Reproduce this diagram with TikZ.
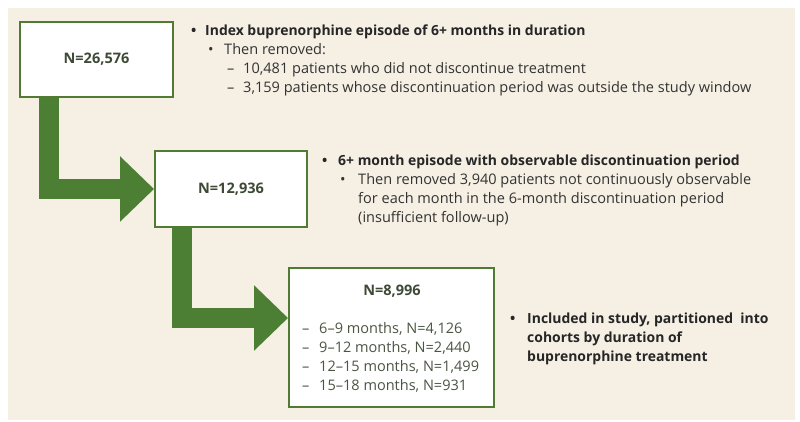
\documentclass[tikz,border=0pt]{standalone}
\usepackage{fontspec}
\setmainfont{Open Sans}
\usepackage{xcolor}
\usepackage{tikz}
\usetikzlibrary{positioning,arrows.meta,backgrounds}
\definecolor{flowgreen}{HTML}{4C7F33}
\definecolor{flowedge}{HTML}{517B32}
\definecolor{flowpanel}{HTML}{F5EFE4}
\definecolor{flowcount}{HTML}{3E4A36}
\definecolor{flowtext}{HTML}{333333}
\definecolor{flowlist}{HTML}{4A5544}
\begin{document}
\begin{tikzpicture}[x=0.03cm,y=-0.03cm,
  nbox/.style={draw=flowedge,line width=1.6pt,fill=white,font=\fontsize{12.4}{14}\selectfont\bfseries,text=flowcount},
  txt/.style={anchor=base west,inner sep=0pt,font=\fontsize{12.4}{14}\selectfont,text=flowtext},
  head/.style={txt,font=\fontsize{11.9}{14}\selectfont\bfseries,text=black!85},
  flow/.style={draw=flowgreen,line width=0.6cm,line join=miter,-{Triangle[length=1.02cm,width=1.9cm]}}
]
\useasboundingbox (0,0) rectangle (800,422);
\begin{scope}[on background layer]
\fill[flowpanel] (8,8) rectangle (795,420);
\end{scope}
% counts
\node[nbox,minimum width=4.59cm,minimum height=2.25cm] (n1) at (96.5,59.5) {N=26,576};
\node[nbox,minimum width=4.56cm,minimum height=2.28cm] (n2) at (231,189) {N=12,936};
\node[nbox,minimum width=6.15cm,minimum height=4.17cm] (n3) at (391.5,337.5) {};
\begin{scope}[on background layer]
\draw[flow] ([xshift=0.885cm]n1.south west) |- (n2.west);
\draw[flow] ([xshift=0.84cm]n2.south west) |- ([yshift=0.585cm]n3.west);
\end{scope}
% box 3 contents
\node[nbox,draw=none,fill=none,anchor=base,inner sep=0pt] (n3h) at (392,295) {N=8,996};
\foreach \yy/\lbl [count=\i] in {333/{6–9 months, N=4,126},352/{9–12 months, N=2,440},371/{12–15 months, N=1,499},390/{15–18 months, N=931}}{
  \node[txt,text=flowlist] (d\i) at (302,\yy) {–};
  \node[txt,text=flowlist] (c\i) at (319,\yy) {\lbl};
}
% first step
\node[head] (b1) at (191,36) {•};
\node[head] (t1) at (205,36) {Index buprenorphine episode of 6+ months in duration};
\node[txt] (b1a) at (208,55) {•};
\node[txt] (t1a) at (224,55) {Then removed:};
\node[txt] (d1a) at (227,74) {–};
\node[txt] (t1b) at (243,74) {10,481 patients who did not discontinue treatment};
\node[txt] (d1b) at (227,93) {–};
\node[txt] (t1c) at (243,93) {3,159 patients whose discontinuation period was outside the study window};
% second step
\node[head] (b2) at (322,165) {•};
\node[head] (t2) at (338,165) {6+ month episode with observable discontinuation period};
\node[txt] (b2a) at (340,185) {•};
\node[txt] (t2a) at (358,185) {Then removed 3,940 patients not continuously observable};
\node[txt] (t2b) at (358,203) {for each month in the 6-month discontinuation period};
\node[txt] (t2c) at (358,222) {(insufficient follow-up)};
% third step
\node[head] (b3) at (510,323) {•};
\node[head] (t3) at (527,323) {Included in study, partitioned\ \ into};
\node[head] (t3a) at (527,342) {cohorts by duration of};
\node[head] (t3b) at (527,361) {buprenorphine treatment};
\end{tikzpicture}
\end{document}
